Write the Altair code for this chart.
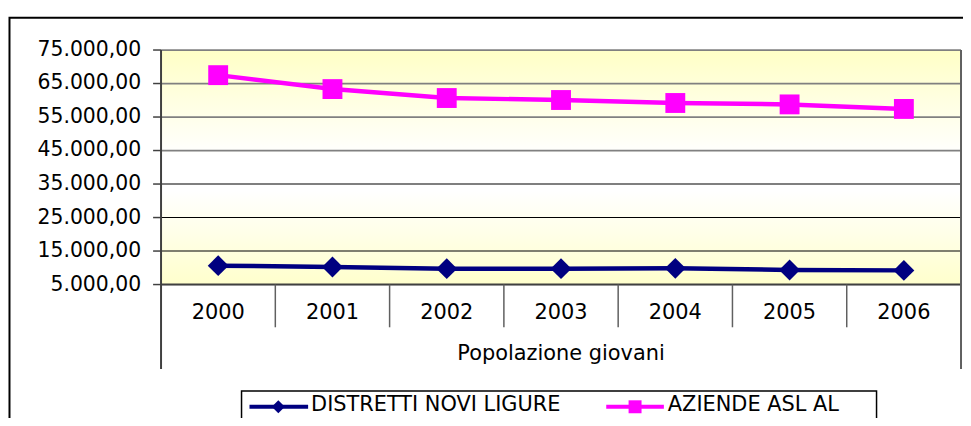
import altair as alt
import pandas as pd

# ---- data ----
YEARS = ["2000", "2001", "2002", "2003", "2004", "2005", "2006"]
SERIES = ["DISTRETTI NOVI LIGURE", "AZIENDE ASL AL"]
DISTRETTI = [10630, 10250, 9740, 9740, 9840, 9350, 9230]
AZIENDE = [67500, 63340, 60670, 60080, 59190, 58770, 57410]
Y_TICKS = [5000, 15000, 25000, 35000, 45000, 55000, 65000, 75000]
X_TITLE = "Popolazione giovani"
COLORS = ["#000080", "#FF00FF"]
SHAPES = ["diamond", "square"]

W, H = 805, 236
FONT = "DejaVu Sans"

df = pd.DataFrame({
    "year": YEARS * 2,
    "series": [SERIES[0]] * len(YEARS) + [SERIES[1]] * len(YEARS),
    "value": DISTRETTI + AZIENDE,
})
one = pd.DataFrame({"k": [0]})
grid_df = pd.DataFrame({"v": Y_TICKS})
year_df = pd.DataFrame({"year": YEARS})
sep_df = pd.DataFrame({"year": YEARS[1:]})

xscale = alt.Scale(type="band", domain=YEARS, paddingInner=0, paddingOuter=0)
yscale = alt.Scale(domain=[Y_TICKS[0], Y_TICKS[-1]], nice=False, zero=False)
it_format = "replace(replace(replace(format(datum.v, ',.2f'), ',', '#'), '.', ','), '#', '.')"

frame = alt.Chart(one).mark_rect(fillOpacity=0, stroke="black", strokeWidth=2).encode(
    x=alt.value(-152.5), x2=alt.value(W + 200), y=alt.value(-32.5), y2=alt.value(H + 300)
)

bg = alt.Chart(one).mark_rect(
    fill=alt.Gradient(
        gradient="linear", x1=0, x2=0, y1=0, y2=1,
        stops=[
            alt.GradientStop(offset=0, color="#FFFFC6"),
            alt.GradientStop(offset=0.45, color="#FFFFFF"),
            alt.GradientStop(offset=0.6, color="#FFFFFF"),
            alt.GradientStop(offset=1, color="#FFFFCC"),
        ],
    )
).encode(x=alt.value(0), x2=alt.value(W), y=alt.value(0), y2=alt.value(H))

grid = alt.Chart(grid_df).mark_rule().encode(
    y=alt.Y("v:Q", scale=yscale, axis=None),
    color=alt.condition("datum.v >= 45000", alt.value("#808080"), alt.value("#000000")),
    strokeWidth=alt.condition("datum.v >= 45000", alt.value(1.8), alt.value(1.1)),
)

yticks = alt.Chart(grid_df).mark_rule(color="#404040", strokeWidth=1.5).encode(
    x=alt.value(-8), x2=alt.value(0),
    y=alt.Y("v:Q", scale=yscale, axis=None),
)
ylabels = alt.Chart(grid_df).transform_calculate(label=it_format).mark_text(
    font=FONT, fontSize=20.5, color="black", align="right", baseline="middle"
).encode(
    x=alt.value(-20),
    y=alt.Y("v:Q", scale=yscale, axis=None),
    text="label:N",
)

left_domain = alt.Chart(one).mark_rule(color="#404040", strokeWidth=2).encode(
    x=alt.value(0), y=alt.value(0), y2=alt.value(H + 85)
)
bottom_domain = alt.Chart(one).mark_rule(color="#404040", strokeWidth=2).encode(
    x=alt.value(0), x2=alt.value(W), y=alt.value(H)
)
right_border = alt.Chart(one).mark_rule(color="#606060", strokeWidth=2).encode(
    x=alt.value(W), y=alt.value(0), y2=alt.value(H + 85)
)
seps = alt.Chart(sep_df).mark_rule(color="#606060", strokeWidth=1.5).encode(
    x=alt.X("year:N", scale=xscale, bandPosition=0, axis=None),
    y=alt.value(H), y2=alt.value(H + 43),
)
xlabels = alt.Chart(year_df).mark_text(
    font=FONT, fontSize=21, color="black", align="center", baseline="middle"
).encode(
    x=alt.X("year:N", scale=xscale, bandPosition=0.5, axis=None),
    y=alt.value(H + 29),
    text="year:N",
)

color = alt.Color("series:N", scale=alt.Scale(domain=SERIES, range=COLORS), legend=None)

lines = alt.Chart(df).mark_line(strokeWidth=4.5).encode(
    x=alt.X("year:N", scale=xscale, bandPosition=0.5, axis=None),
    y=alt.Y("value:Q", scale=yscale, axis=None),
    color=color,
)
points = alt.Chart(df).mark_point(filled=True, opacity=1).encode(
    x=alt.X("year:N", scale=xscale, bandPosition=0.5, axis=None),
    y=alt.Y("value:Q", scale=yscale, axis=None),
    color=color,
    shape=alt.Shape("series:N", scale=alt.Scale(domain=SERIES, range=SHAPES), legend=None),
    size=alt.condition(f"datum.series == '{SERIES[0]}'", alt.value(440), alt.value(400)),
)

title = alt.Chart(one).mark_text(font=FONT, fontSize=21, color="black", align="center", baseline="middle").encode(
    x=alt.value(W / 2), y=alt.value(306), text=alt.value(X_TITLE)
)

# ---- legend ----
leg_box = alt.Chart(one).mark_rect(fill="white", stroke="black", strokeWidth=1.5).encode(
    x=alt.value(81), x2=alt.value(720), y=alt.value(343), y2=alt.value(420)
)
leg_line1 = alt.Chart(one).mark_rule(color=COLORS[0], strokeWidth=4).encode(
    x=alt.value(89), x2=alt.value(148), y=alt.value(359)
)
leg_sym1 = alt.Chart(one).mark_point(filled=True, opacity=1, shape=SHAPES[0], color=COLORS[0], size=170).encode(
    x=alt.value(118), y=alt.value(359)
)
leg_text1 = alt.Chart(one).mark_text(font=FONT, fontSize=21, color="black", align="left", baseline="alphabetic").encode(
    x=alt.value(151), y=alt.value(363), text=alt.value(SERIES[0])
)
leg_line2 = alt.Chart(one).mark_rule(color=COLORS[1], strokeWidth=4).encode(
    x=alt.value(448), x2=alt.value(506), y=alt.value(359)
)
leg_sym2 = alt.Chart(one).mark_point(filled=True, opacity=1, shape=SHAPES[1], color=COLORS[1], size=170).encode(
    x=alt.value(477), y=alt.value(359)
)
leg_text2 = alt.Chart(one).mark_text(font=FONT, fontSize=21, color="black", align="left", baseline="alphabetic").encode(
    x=alt.value(510), y=alt.value(363), text=alt.value(SERIES[1])
)

chart = alt.layer(
    frame, bg, grid, left_domain, bottom_domain, right_border, seps, yticks,
    ylabels, xlabels, lines, points, title,
    leg_box, leg_line1, leg_sym1, leg_text1, leg_line2, leg_sym2, leg_text2,
).properties(
    width=W, height=H,
    padding={"left": 154, "top": 41, "right": 2, "bottom": 133},
    autosize=alt.AutoSizeParams(type="none"),
).configure_view(stroke=None).configure(background="white")

chart.save("out.html", embed_options={"renderer": "svg", "actions": False})
